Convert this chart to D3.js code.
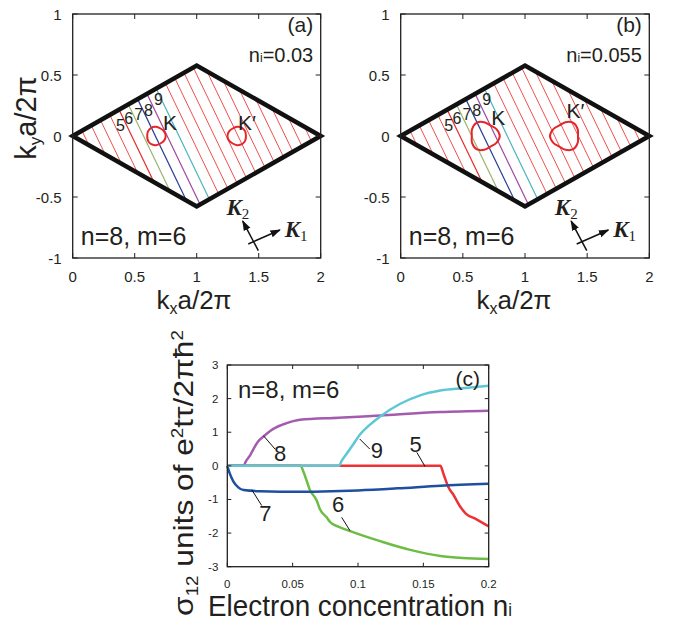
<!DOCTYPE html>
<html>
<head>
<meta charset="utf-8">
<script src="https://cdn.jsdelivr.net/npm/d3@7"></script>
<style>
body{margin:0;background:#fff}
svg{display:block}
text{font-family:"Liberation Sans",Arial,sans-serif;fill:#231f20}
</style>
</head>
<body>
<svg width="680" height="627"></svg>
<script>
// ---- Brillouin zone panels (a),(b)
const bzTicksX = [0, 0.5, 1, 1.5, 2];
const bzTicksY = [-1, -0.5, 0, 0.5, 1];
const bzCorners = [[0, 0], [1, 0.577], [2, 0], [1, -0.577]];
const cutIndex = [1, 2, 3, 4, 5, 6, 7, 8, 9, 10, 11, 12, 13, 14, 15, 16, 17, 18, 19, 20];
const cutSpacing = 2 / 21;      // spacing of cutting lines along kx at ky=0
const cutAngle = 25.3;          // degrees from vertical
const bandIndex = [5, 6, 7, 8, 9];
const bandColor = ["#e52b2b", "#9bb46c", "#2c3f97", "#a2479e", "#4cb3bd"];
const bandLabelKy = [0.09, 0.15, 0.18, 0.215, 0.30];
const panelTags = ["(a)", "(b)"];
const concText = ["0.03", "0.055"];
const valleyK = [0.672, 0];
const valleyKp = [1.326, 0];
const contourAngles = [0, 30, 60, 90, 120, 150, 180, 210, 240, 270, 300, 330];
const contourA_K  = [0.078, 0.075, 0.071, 0.075, 0.078, 0.075, 0.071, 0.075, 0.078, 0.075, 0.071, 0.075];
const contourA_Kp = [0.071, 0.075, 0.078, 0.075, 0.071, 0.075, 0.078, 0.075, 0.071, 0.075, 0.078, 0.075];
const contourB_K  = [0.125, 0.113, 0.100, 0.113, 0.125, 0.113, 0.100, 0.113, 0.125, 0.113, 0.100, 0.113];
const contourB_Kp = [0.100, 0.113, 0.125, 0.113, 0.100, 0.113, 0.125, 0.113, 0.100, 0.113, 0.125, 0.113];
const kLabelKy = [0.05, 0.09];
const kpLabelKy = [0.05, 0.148];

// ---- Hall conductivity panel (c)
const concTicks = [0, 0.05, 0.1, 0.15, 0.2];
const sigmaTicks = [-3, -2, -1, 0, 1, 2, 3];
const band5 = [[0,0],[0.163,0],[0.1655,-0.25],[0.169,-0.62],[0.173,-0.86],[0.178,-1.2],[0.1825,-1.42],[0.19,-1.58],[0.2,-1.8]];
const band6 = [[0,0],[0.056,0],[0.0585,-0.2],[0.0607,-0.44],[0.063,-0.7],[0.0684,-1.03],[0.071,-1.3],[0.076,-1.53],[0.0786,-1.67],[0.085,-1.81],[0.094,-1.94],[0.105,-2.09],[0.117,-2.24],[0.14,-2.5],[0.163,-2.68],[0.18,-2.74],[0.2,-2.77]];
const band7 = [[0,0],[0.002,-0.24],[0.0046,-0.46],[0.0084,-0.64],[0.0125,-0.72],[0.025,-0.755],[0.056,-0.77],[0.08,-0.755],[0.1,-0.73],[0.13,-0.67],[0.163,-0.59],[0.2,-0.53]];
const band8 = [[0,0],[0.0125,0],[0.014,0.12],[0.0174,0.31],[0.02,0.5],[0.0237,0.73],[0.0276,0.87],[0.0352,1.1],[0.0454,1.27],[0.0556,1.37],[0.085,1.43],[0.117,1.5],[0.163,1.6],[0.2,1.64]];
const band9 = [[0,0],[0.0855,0],[0.0875,0.15],[0.0913,0.36],[0.096,0.62],[0.1015,0.93],[0.109,1.22],[0.117,1.47],[0.132,1.84],[0.147,2.09],[0.163,2.24],[0.18,2.31],[0.2,2.38]];
const curveColor = {5: "#ec3234", 6: "#6dbd45", 7: "#1f4f9f", 8: "#a45bae", 9: "#5ec7d6"};
const drawOrder = [6, 5, 8, 7, 9];
const curveData = {5: band5, 6: band6, 7: band7, 8: band8, 9: band9};
// leader labels: [text, from(x,y), to(x,y), text centre(x,y)]
const leaders = [
  ["8", [0.0276, 0.9], [0.0365, 0.5], [0.0405, 0.38]],
  ["9", [0.1013, 0.8], [0.109, 0.5], [0.1145, 0.48]],
  ["5", [0.145, 0.4], [0.1513, -0.02], [0.144, 0.66]],
  ["7", [0.0187, -0.71], [0.0263, -1.18], [0.0292, -1.4]],
  ["6", [0.0875, -1.53], [0.0939, -1.93], [0.0848, -1.14]]
];

const svg = d3.select("svg");
const defs = svg.append("defs");
defs.append("marker").attr("id", "arr").attr("viewBox", "0 0 10 10")
  .attr("refX", 9).attr("refY", 5).attr("markerWidth", 7).attr("markerHeight", 7)
  .attr("orient", "auto")
  .append("path").attr("d", "M0,1.5 L10,5 L0,8.5 Z").attr("fill", "#111");

function frame(g, x, y, xt, yt, tl) {
  const [x0, x1] = x.range(), [y0, y1] = y.range();
  g.append("rect").attr("x", x0).attr("y", y1).attr("width", x1 - x0).attr("height", y0 - y1)
    .attr("fill", "none").attr("stroke", "#231f20").attr("stroke-width", 1.3);
  xt.forEach(v => {
    g.append("line").attr("x1", x(v)).attr("x2", x(v)).attr("y1", y0).attr("y2", y0 - tl).attr("stroke", "#231f20");
    g.append("line").attr("x1", x(v)).attr("x2", x(v)).attr("y1", y1).attr("y2", y1 + tl).attr("stroke", "#231f20");
  });
  yt.forEach(v => {
    g.append("line").attr("x1", x0).attr("x2", x0 + tl).attr("y1", y(v)).attr("y2", y(v)).attr("stroke", "#231f20");
    g.append("line").attr("x1", x1).attr("x2", x1 - tl).attr("y1", y(v)).attr("y2", y(v)).attr("stroke", "#231f20");
  });
}

// clip a cutting line (through (x0,0)) to the rhombus
function clipCut(x0) {
  const th = cutAngle * Math.PI / 180;
  const dx = Math.sin(th), dy = -Math.cos(th);
  const ts = [];
  for (let i = 0; i < 4; i++) {
    const A = bzCorners[i], B = bzCorners[(i + 1) % 4];
    const ex = B[0] - A[0], ey = B[1] - A[1];
    const det = -dx * ey + ex * dy;
    if (Math.abs(det) < 1e-9) continue;
    const t = (-(A[0] - x0) * ey + ex * A[1]) / det;
    const u = (dx * A[1] - dy * (A[0] - x0)) / det;
    if (u >= -1e-9 && u <= 1 + 1e-9) ts.push(t);
  }
  const t0 = d3.min(ts), t1 = d3.max(ts);
  return [[x0 + t0 * dx, t0 * dy], [x0 + t1 * dx, t1 * dy]];
}

function bzPanel(p, xr) {
  const x = d3.scaleLinear().domain([0, 2]).range(xr);
  const y = d3.scaleLinear().domain([-1, 1]).range([258, 14]);
  const g = svg.append("g");
  const th = cutAngle * Math.PI / 180;

  // cutting lines
  cutIndex.forEach(j => {
    const seg = clipCut(j * cutSpacing);
    const b = bandIndex.indexOf(j);
    g.append("line")
      .attr("x1", x(seg[0][0])).attr("y1", y(seg[0][1]))
      .attr("x2", x(seg[1][0])).attr("y2", y(seg[1][1]))
      .attr("stroke", b >= 0 ? bandColor[b] : "#ee3a3a")
      .attr("stroke-width", b >= 0 ? 1.2 : 0.9);
  });
  // band numbers
  bandIndex.forEach((j, i) => {
    const ky = bandLabelKy[i];
    const kx = j * cutSpacing - ky * Math.tan(th);
    g.append("text").attr("x", x(kx) - (j === 9 ? 3 : 6)).attr("y", y(ky) + 6)
      .attr("text-anchor", "middle").attr("font-size", 16).text(j);
  });

  // Fermi contours
  const line = d3.line().curve(d3.curveCardinalClosed);
  const cK = p === 0 ? contourA_K : contourB_K;
  const cKp = p === 0 ? contourA_Kp : contourB_Kp;
  [[valleyK, cK], [valleyKp, cKp]].forEach(([c, rr]) => {
    const pts = contourAngles.map((a, i) => [
      x(c[0] + rr[i] * Math.cos(a * Math.PI / 180)),
      y(c[1] + rr[i] * Math.sin(a * Math.PI / 180))]);
    g.append("path").attr("d", line(pts)).attr("fill", "none")
      .attr("stroke", "#e5262a").attr("stroke-width", 2);
  });

  // zone boundary
  g.append("path")
    .attr("d", d3.line()(bzCorners.map(d => [x(d[0]), y(d[1])])) + "Z")
    .attr("fill", "none").attr("stroke", "#111").attr("stroke-width", 4.5)
    .attr("stroke-linejoin", "miter");

  frame(g, x, y, bzTicksX, bzTicksY, 5);

  bzTicksX.forEach(v => g.append("text").attr("x", x(v)).attr("y", 282)
    .attr("text-anchor", "middle").attr("font-size", 15).text(v));
  bzTicksY.forEach(v => g.append("text").attr("x", x(0) - 11).attr("y", y(v) + 5.5)
    .attr("text-anchor", "end").attr("font-size", 15).text(v));

  // labels
  g.append("text").attr("x", x(1.94)).attr("y", y(0.852)).attr("text-anchor", "end")
    .attr("font-size", 21).text(panelTags[p]);
  const nt = g.append("text").attr("x", x(1.94)).attr("y", y(0.607)).attr("text-anchor", "end")
    .attr("font-size", 20);
  nt.append("tspan").text("n");
  nt.append("tspan").attr("font-size", 12).text("i");
  nt.append("tspan").text("=" + concText[p]);
  g.append("text").attr("x", x(0.065)).attr("y", y(-0.893)).attr("font-size", 25).text("n=8, m=6");
  g.append("text").attr("x", x(0.728)).attr("y", y(kLabelKy[p])).attr("font-size", 21).text("K");
  g.append("text").attr("x", x(1.333)).attr("y", y(kpLabelKy[p])).attr("font-size", 21).text("K\u2032");

  // reciprocal lattice vectors
  g.append("line").attr("x1", x(1.416)).attr("y1", y(-0.885)).attr("x2", x(1.671)).attr("y2", y(-0.77))
    .attr("stroke", "#111").attr("stroke-width", 1.5).attr("marker-end", "url(#arr)");
  g.append("line").attr("x1", x(1.497)).attr("y1", y(-0.94)).attr("x2", x(1.371)).attr("y2", y(-0.697))
    .attr("stroke", "#111").attr("stroke-width", 1.5).attr("marker-end", "url(#arr)");
  [["2", 1.24, -0.648], ["1", 1.71, -0.828]].forEach(([s, kx, ky]) => {
    const t = g.append("text").attr("x", x(kx)).attr("y", y(ky))
      .style("font-family", "'Liberation Serif','DejaVu Serif',serif");
    t.append("tspan").attr("font-size", 23).attr("font-weight", "bold").attr("font-style", "italic").text("K");
    t.append("tspan").attr("font-size", 15).attr("dy", 4).text(s);
  });

  // axis titles
  const xl = g.append("text").attr("x", p === 0 ? 194 : 514).attr("y", 309)
    .attr("text-anchor", "middle").attr("font-size", 26);
  xl.append("tspan").text("k");
  xl.append("tspan").attr("font-size", 16).attr("dy", 5).text("x");
  xl.append("tspan").attr("dy", -5).text("a/2\u03c0");
  if (p === 0) {
    const yl = g.append("text").attr("transform", "translate(36,118) rotate(-90)")
      .attr("text-anchor", "middle").attr("font-size", 29);
    yl.append("tspan").text("k");
    yl.append("tspan").attr("font-size", 17).attr("dy", 5).text("y");
    yl.append("tspan").attr("dy", -5).text("a/2\u03c0");
  }
}

bzPanel(0, [72.7, 320.7]);
bzPanel(1, [400.7, 649.3]);

// ---- panel (c)
const xc = d3.scaleLinear().domain([0, 0.2]).range([227.3, 488.7]);
const yc = d3.scaleLinear().domain([-3, 3]).range([566.7, 365]);
const gc = svg.append("g");
const cl = d3.line().x(d => xc(d[0])).y(d => yc(d[1])).curve(d3.curveMonotoneX);
drawOrder.forEach(b => {
  gc.append("path").attr("d", cl(curveData[b])).attr("fill", "none")
    .attr("stroke", curveColor[b]).attr("stroke-width", 2.5).attr("stroke-linejoin", "round");
});
frame(gc, xc, yc, concTicks, sigmaTicks, 4);
concTicks.forEach(v => gc.append("text").attr("x", xc(v)).attr("y", 588)
  .attr("text-anchor", "middle").attr("font-size", 11.5).text(v));
sigmaTicks.forEach(v => gc.append("text").attr("x", xc(0) - 9).attr("y", yc(v) + 4)
  .attr("text-anchor", "end").attr("font-size", 11.5).text(v));
leaders.forEach(([t, a, b, c]) => {
  gc.append("line").attr("x1", xc(a[0])).attr("y1", yc(a[1])).attr("x2", xc(b[0])).attr("y2", yc(b[1]))
    .attr("stroke", "#111").attr("stroke-width", 1);
  gc.append("text").attr("x", xc(c[0])).attr("y", yc(c[1]) + 8).attr("text-anchor", "middle")
    .attr("font-size", 22).text(t);
});
gc.append("text").attr("x", 480).attr("y", 386).attr("text-anchor", "end").attr("font-size", 21).text("(c)");
gc.append("text").attr("x", 238).attr("y", 398).attr("font-size", 24).text("n=8, m=6");

// x title, squeezed horizontally to the narrow face of the original
const xg = gc.append("g");
const xt = xg.append("text").attr("font-size", 30);
xt.append("tspan").text("Electron concentration n");
xt.append("tspan").attr("font-size", 18).text("i");
const xs = 304 / xt.node().getComputedTextLength();
xg.attr("transform", `translate(208,616) scale(${xs},1)`);

// y title, rotated and squeezed the same way
const yg = gc.append("g");
const yt = yg.append("text").attr("font-size", 27).attr("text-anchor", "middle");
yt.append("tspan").text("\u03c3");
yt.append("tspan").attr("font-size", 16).attr("dy", 5).text("12");
yt.append("tspan").attr("dy", -5).text(" units of e");
yt.append("tspan").attr("font-size", 16).attr("dy", -10).text("2");
yt.append("tspan").attr("dy", 10).text("t\u03c4/2\u03c0\u0127");
yt.append("tspan").attr("font-size", 16).attr("dy", -10).text("2");
const ys = 286 / yt.node().getComputedTextLength();
yg.attr("transform", `translate(193,473) rotate(-90) scale(${ys},1)`);
</script>
</body>
</html>
